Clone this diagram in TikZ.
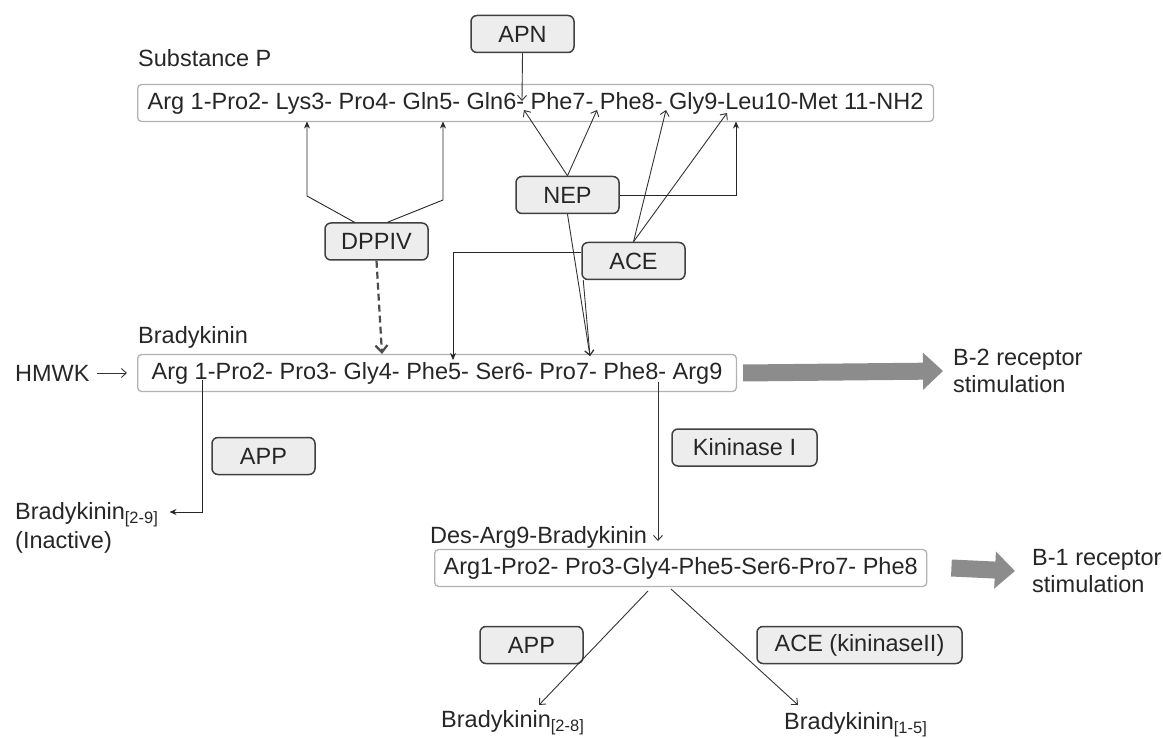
\documentclass[tikz,border=0pt]{standalone}
\usepackage{fontspec}
\setmainfont{Liberation Sans}
\usetikzlibrary{positioning, arrows.meta}

\begin{document}
\begin{tikzpicture}[x=1pt, y=-1pt,
  every node/.style={font=\fontsize{23.5}{27}\selectfont, text=black!85},
  enzyme/.style={draw=black!75, line width=1.5pt, fill=black!7, rounded corners=6pt,
    minimum width=103pt, minimum height=37pt, inner sep=0pt},
  peptide/.style={draw=black!30, line width=1.3pt, fill=white, rounded corners=4pt,
    minimum height=37pt, inner ysep=0pt, anchor=west},
  tag/.style={anchor=west, inner sep=0pt},
  cut/.style={draw=black!80, line width=0.9pt, -{Straight Barb[length=5pt,width=9pt]}},
  hit/.style={draw=black!85, line width=0.9pt, -{Stealth[length=7pt,width=6pt]}},
  bigarrow/.style={draw=black!45, line width=17pt, -{Triangle[length=20pt,width=36pt]}},
]
\useasboundingbox (0,0) rectangle (1163,738);

% Substance P row
\node[tag] (sptag) at (138,58) {Substance P};
\node[peptide, inner xsep=10pt] (sp) at (137,103)
  {Arg 1-Pro2- Lys3- Pro4- Gln5- Gln6- Phe7- Phe8- Gly9-Leu10-Met 11-NH2};

% Bradykinin row
\node[tag] (bktag) at (138,337) {Bradykinin};
\node[peptide, inner xsep=14pt] (bk) at (137,373)
  {Arg 1-Pro2- Pro3- Gly4- Phe5- Ser6- Pro7- Phe8- Arg9};
\node[tag] (hmwk) at (15,373) {HMWK};
\node[tag, align=left] (b2) at (953,371) {B-2 receptor\\stimulation};

% Des-Arg9-Bradykinin row
\node[tag] (destag) at (430,537) {Des-Arg9-Bradykinin};
\node[peptide, inner xsep=9pt] (des) at (434,568)
  {Arg1-Pro2- Pro3-Gly4-Phe5-Ser6-Pro7- Phe8};
\node[tag, align=left] (b1) at (1032,571) {B-1 receptor\\stimulation};

% Enzymes
\node[enzyme] (apn) at (522.5,34) {APN};
\node[enzyme] (nep) at (567.5,195) {NEP};
\node[enzyme] (dppiv) at (376.5,241.5) {DPPIV};
\node[enzyme] (ace) at (633.5,261) {ACE};
\node[enzyme] (app) at (263.5,456) {APP};
\node[enzyme, minimum width=145pt] (kin) at (744.5,447.5) {Kininase I};
\node[enzyme] (app2) at (531.5,645) {APP};
\node[enzyme, minimum width=205pt] (ace2) at (859.5,645) {ACE (kininaseII)};

% Products
\node[tag] (bk29) at (15,515) {Bradykinin\textsubscript{[2-9]}};
\node[tag] (inact) at (15,542) {(Inactive)};
\node[tag] (bk28) at (441,723) {Bradykinin\textsubscript{[2-8]}};
\node[tag] (bk15) at (784,725) {Bradykinin\textsubscript{[1-5]}};

% Cleavage sites
\coordinate (spA) at (522,101);
\coordinate (spK3) at (307,121.5);
\coordinate (spQ5) at (443,121.5);
\coordinate (spG6) at (524,110);
\coordinate (spF7) at (597,110);
\coordinate (spF8) at (666,110);
\coordinate (spG9) at (727,113);
\coordinate (spL10) at (736,121.5);
\coordinate (dpL) at (307,196);
\coordinate (dpR) at (443,200);
\coordinate (bkR1) at (202,380);
\coordinate (bkG4) at (382,354);
\coordinate (bkF5) at (453,360);
\coordinate (bkP7) at (590,356);
\coordinate (bkF8) at (658,382);
\coordinate (desTip) at (658,541);
\coordinate (desL) at (648,591);
\coordinate (desR) at (671,589);
\coordinate (t28) at (539,705);
\coordinate (t15) at (798,705);

% Substance P cleavage
\draw[cut] (apn.south) -- (spA);
\draw[hit] ([xshift=-22pt]dppiv.north) -- (dpL) -- (spK3);
\draw[hit] ([xshift=11pt]dppiv.north) -- (dpR) -- (spQ5);
\draw[cut] (nep.north) -- (spG6);
\draw[cut] (nep.north) -- (spF7);
\draw[cut] (ace.north) -- (spF8);
\draw[cut] (ace.north) -- (spG9);
\draw[hit] (nep.east) -| (spL10);

% Bradykinin cleavage
\draw[cut] (hmwk.east) ++(7.5,0) -- ([xshift=-10pt]bk.west);
\draw[draw=black!70, line width=2.2pt, dash pattern=on 7pt off 4pt,
  -{Straight Barb[length=7pt,width=12pt]}] (dppiv.south) -- (bkG4);
\draw[cut] (nep.south) -- (bkP7);
\draw[cut] ([xshift=2pt]ace.south west) -- (bkP7);
\draw[hit] ([yshift=9pt]ace.west) -| (bkF5);
\draw[hit] (bkR1) |- ([xshift=11pt,yshift=3pt]bk29.east);
\draw[cut] (bkF8) -- (desTip);

% Des-Arg9-Bradykinin cleavage
\draw[cut] (desL) -- (t28);
\draw[cut] (desR) -- (t15);

% Receptor stimulation
\draw[bigarrow] ([xshift=6pt]bk.east) -- ([xshift=-10pt]b2.west);
\draw[bigarrow] ([xshift=24pt]des.east) -- ([xshift=-17pt]b1.west);

\end{tikzpicture}
\end{document}
